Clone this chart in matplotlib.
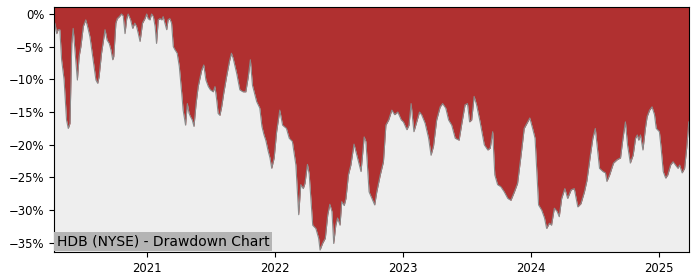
import numpy as np
import pandas as pd
import matplotlib
matplotlib.use('Agg')
import matplotlib.pyplot as plt
import matplotlib.dates as mdates
from matplotlib.ticker import PercentFormatter

title = 'HDB (NYSE) - Drawdown Chart'

# drawdown from running peak, in percent
dates = [
    '2020-04-09', '2020-04-12', '2020-04-17', '2020-04-21', '2020-04-26', '2020-05-01',
    '2020-05-08', '2020-05-15', '2020-05-20', '2020-05-25', '2020-05-30', '2020-06-03',
    '2020-06-08', '2020-06-15', '2020-06-20', '2020-06-25', '2020-07-02', '2020-07-09',
    '2020-07-14', '2020-07-21', '2020-07-30', '2020-08-07', '2020-08-12', '2020-08-16',
    '2020-08-23', '2020-09-02', '2020-09-08', '2020-09-14', '2020-09-19', '2020-09-24',
    '2020-09-27', '2020-10-03', '2020-10-07', '2020-10-13', '2020-10-19', '2020-10-24',
    '2020-10-29', '2020-11-03', '2020-11-07', '2020-11-14', '2020-11-20', '2020-11-26',
    '2020-12-01', '2020-12-06', '2020-12-11', '2020-12-18', '2020-12-25', '2020-12-30',
    '2021-01-03', '2021-01-08', '2021-01-13', '2021-01-18', '2021-01-23', '2021-01-27',
    '2021-02-01', '2021-02-06', '2021-02-11', '2021-02-15', '2021-02-20', '2021-02-25',
    '2021-03-01', '2021-03-06', '2021-03-11', '2021-03-16', '2021-03-21', '2021-03-27',
    '2021-04-02', '2021-04-09', '2021-04-13', '2021-04-20', '2021-04-25', '2021-04-30',
    '2021-05-04', '2021-05-09', '2021-05-14', '2021-05-20', '2021-05-26', '2021-06-05',
    '2021-06-11', '2021-06-17', '2021-06-24', '2021-06-30', '2021-07-08', '2021-07-13',
    '2021-07-18', '2021-07-22', '2021-07-27', '2021-08-01', '2021-08-07', '2021-08-15',
    '2021-08-23', '2021-08-29', '2021-09-03', '2021-09-13', '2021-09-20', '2021-09-22',
    '2021-10-01', '2021-10-09', '2021-10-16', '2021-10-22', '2021-10-28', '2021-11-09',
    '2021-11-18', '2021-11-24', '2021-11-30', '2021-12-05', '2021-12-12', '2021-12-17',
    '2021-12-22', '2021-12-29',
    '2022-01-05', '2022-01-14', '2022-01-22', '2022-02-02', '2022-02-10', '2022-02-19',
    '2022-03-01', '2022-03-09', '2022-03-15', '2022-03-22', '2022-03-27', '2022-04-03',
    '2022-04-08', '2022-04-18', '2022-04-27', '2022-05-05', '2022-05-09', '2022-05-16',
    '2022-05-24', '2022-05-31', '2022-06-06', '2022-06-12', '2022-06-17', '2022-06-23',
    '2022-06-28', '2022-07-05', '2022-07-10', '2022-07-17', '2022-07-22', '2022-07-29',
    '2022-08-05', '2022-08-14', '2022-08-24', '2022-09-03', '2022-09-12', '2022-09-17',
    '2022-09-26', '2022-10-04', '2022-10-12', '2022-10-18', '2022-10-28', '2022-11-06',
    '2022-11-13', '2022-11-21', '2022-11-30', '2022-12-08', '2022-12-17', '2022-12-27',
    '2023-01-02', '2023-01-12', '2023-01-18', '2023-01-24', '2023-02-01', '2023-02-09',
    '2023-02-17', '2023-02-23', '2023-03-05', '2023-03-15', '2023-03-22', '2023-03-29',
    '2023-04-07', '2023-04-17', '2023-04-24', '2023-05-03', '2023-05-11', '2023-05-20',
    '2023-05-30', '2023-06-10', '2023-06-18', '2023-06-27', '2023-07-04', '2023-07-10',
    '2023-07-16', '2023-07-23', '2023-07-30', '2023-08-09', '2023-08-21', '2023-08-31',
    '2023-09-07', '2023-09-14', '2023-09-20', '2023-09-28', '2023-10-07', '2023-10-17',
    '2023-10-27', '2023-11-05', '2023-11-15', '2023-11-24', '2023-12-04', '2023-12-13',
    '2023-12-23', '2023-12-29',
    '2024-01-06', '2024-01-13', '2024-01-19', '2024-01-23', '2024-02-01', '2024-02-09',
    '2024-02-15', '2024-02-23', '2024-02-29', '2024-03-08', '2024-03-16', '2024-03-22',
    '2024-03-29', '2024-04-07', '2024-04-15', '2024-04-25', '2024-05-04', '2024-05-14',
    '2024-05-23', '2024-06-02', '2024-06-09', '2024-06-19', '2024-06-26', '2024-07-03',
    '2024-07-08', '2024-07-15', '2024-07-25', '2024-08-01', '2024-08-05', '2024-08-13',
    '2024-08-24', '2024-09-03', '2024-09-13', '2024-09-20', '2024-09-27', '2024-10-03',
    '2024-10-11', '2024-10-19', '2024-10-26', '2024-10-31', '2024-11-04', '2024-11-09',
    '2024-11-16', '2024-11-23', '2024-11-28', '2024-12-05', '2024-12-12', '2024-12-19',
    '2024-12-24',
    '2025-01-02', '2025-01-07', '2025-01-13', '2025-01-20', '2025-01-26', '2025-02-03',
    '2025-02-10', '2025-02-17', '2025-02-24', '2025-03-01', '2025-03-08', '2025-03-15',
    '2025-03-21', '2025-03-27',
]
drawdown = [
    -4.5, -1.4, -3.0, -2.4, -2.4, -7.0,
    -10.0, -16.2, -17.5, -16.7, -4.5, -2.2,
    -5.5, -10.1, -6.5, -5.0, -1.9, -0.9,
    -1.9, -3.5, -7.0, -10.1, -10.6, -9.6,
    -6.0, -2.4, -4.0, -4.5, -5.5, -7.0,
    -6.5, -1.4, -0.7, -0.4, 0.0, -0.3,
    -3.0, -0.7, 0.0, -0.9, -2.2, -1.4,
    -1.9, -3.0, -4.2, -1.4, -0.7, 0.0,
    -0.7, -0.9, 0.0, -0.4, -1.9, -4.5,
    -0.9, -0.7, -0.9, -0.4, -1.4, -2.4,
    -0.9, -0.7, -1.4, -5.0, -5.5, -6.0,
    -8.0, -12.1, -14.7, -17.0, -13.7, -15.2,
    -15.7, -16.2, -17.2, -13.7, -11.1, -8.6,
    -7.8, -10.1, -11.1, -11.6, -11.9, -11.1,
    -13.2, -15.2, -15.5, -14.2, -12.1, -9.6,
    -7.3, -6.0, -6.8, -9.1, -11.1, -11.6,
    -11.9, -11.9, -9.6, -7.0, -10.9, -13.4,
    -14.4, -17.2, -18.5, -19.3, -21.0, -22.0,
    -23.6, -22.0,
    -18.0, -14.7, -17.0, -17.5, -19.0, -19.5,
    -23.1, -30.7, -26.1, -26.7, -25.9, -23.0,
    -24.5, -32.3, -32.8, -34.3, -36.1, -35.1,
    -34.3, -30.7, -29.1, -30.2, -35.1, -32.3,
    -31.2, -32.3, -28.7, -29.3, -28.2, -24.6,
    -23.1, -19.9, -22.0, -24.1, -18.8, -19.5,
    -27.2, -28.2, -29.2, -27.2, -24.6, -22.6,
    -17.0, -16.2, -14.7, -15.4, -15.0, -16.2,
    -16.5, -17.7, -17.0, -13.7, -18.0, -16.5,
    -15.0, -15.4, -16.7, -19.0, -21.6, -20.2,
    -16.2, -14.2, -13.7, -14.4, -16.2, -17.0,
    -19.0, -19.3, -16.7, -13.9, -13.7, -16.5,
    -16.2, -12.6, -13.9, -16.5, -20.0, -20.8,
    -20.5, -18.0, -24.6, -26.1, -26.4, -27.2,
    -28.2, -28.5, -27.2, -25.9, -21.6, -17.5,
    -16.5, -15.9,
    -17.5, -19.0, -25.1, -29.2, -30.0, -31.2,
    -32.8, -32.0, -32.3, -29.7, -30.2, -31.0,
    -28.2, -26.7, -28.2, -26.9, -26.7, -29.5,
    -29.0, -27.2, -25.5, -21.6, -19.0, -17.5,
    -20.0, -23.6, -24.1, -24.3, -25.6, -24.6,
    -22.8, -22.3, -22.0, -19.0, -16.5, -20.0,
    -22.8, -21.6, -19.0, -18.5, -19.3, -18.5,
    -20.8, -17.5, -15.7, -14.7, -14.2, -15.4,
    -17.5,
    -18.0, -20.5, -24.1, -25.1, -24.6, -23.1,
    -22.6, -23.1, -23.6, -23.1, -24.3, -23.6,
    -20.5, -16.5,
]
y_ticks = [0, -5, -10, -15, -20, -25, -30, -35]

x = pd.to_datetime(dates)

fig = plt.figure(figsize=(7, 2.8), dpi=100)
ax = fig.add_axes([0.077, 0.1, 0.907, 0.875])
ax.set_facecolor('#eeeeee')
ax.set_xlim(x[0], x[-1])
ax.set_ylim(-36.4, 1.07)
top = ax.get_ylim()[1]

ax.plot(x, drawdown, color='#8a8a8a', lw=0.8)
ax.fill_between(x, drawdown, top, color='#b03030', lw=0)

ax.set_yticks(y_ticks)
ax.yaxis.set_major_formatter(PercentFormatter(decimals=0))
ax.xaxis.set_major_locator(mdates.YearLocator())
ax.xaxis.set_major_formatter(mdates.DateFormatter('%Y'))
ax.tick_params(labelsize=8.33)

ax.annotate(title, xy=(0, 0), xycoords='axes fraction',
            xytext=(2.0, 2.4), textcoords='offset points',
            ha='left', va='bottom', fontsize=10,
            bbox=dict(facecolor='#b4b4b4', edgecolor='none', pad=2.0))

fig.savefig('out.png', dpi=100)
